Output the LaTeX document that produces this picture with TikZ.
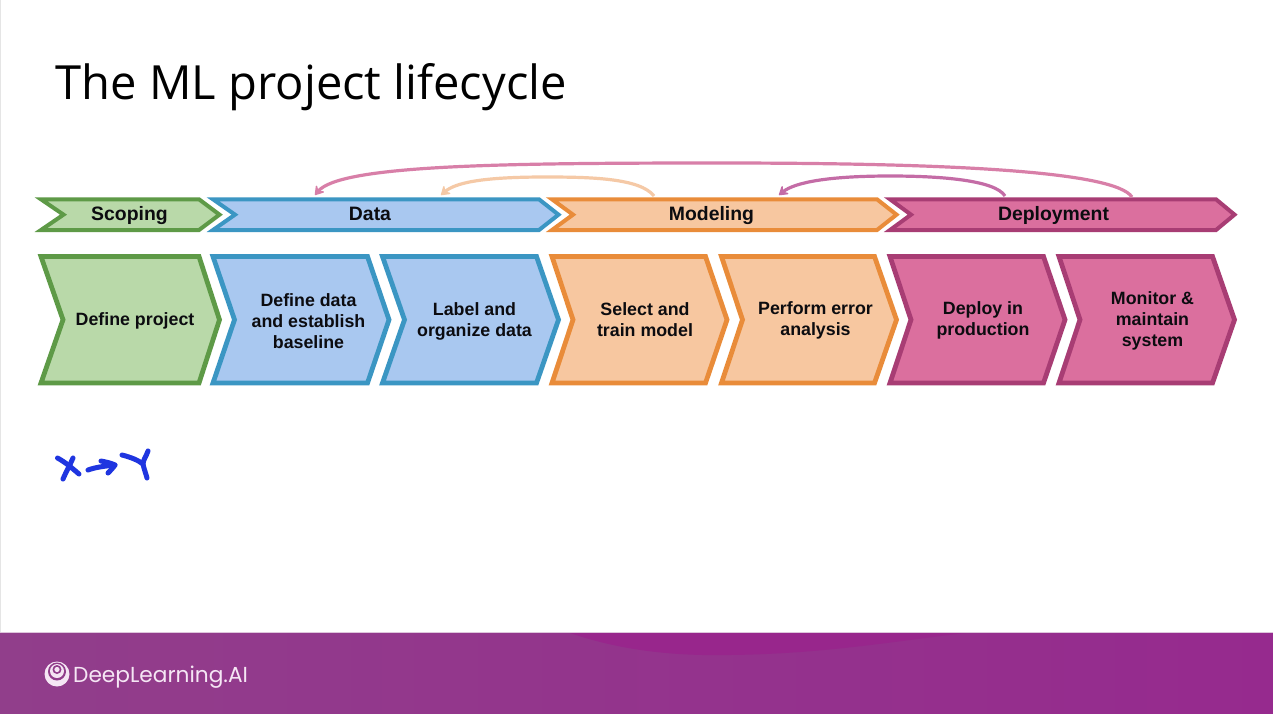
\documentclass[tikz,border=0pt]{standalone}
\usepackage{fontspec}
\setmainfont{Liberation Sans}
\newfontfamily\titlefont{Open Sans}
\newfontfamily\logofont{Poppins}
\usetikzlibrary{arrows.meta,shadings}
\definecolor{gf}{HTML}{B9D9A9}\definecolor{gs}{HTML}{5E9A47}
\definecolor{bf}{HTML}{A9C8F0}\definecolor{bs}{HTML}{3B96C3}
\definecolor{of}{HTML}{F7C7A0}\definecolor{os}{HTML}{E98C3A}
\definecolor{pf}{HTML}{DB6F9E}\definecolor{ps}{HTML}{A83D74}
\definecolor{loopa}{HTML}{D87FA8}\definecolor{loopb}{HTML}{F5C9A6}\definecolor{loopc}{HTML}{C46CA6}
\definecolor{barl}{HTML}{913E8B}\definecolor{barr}{HTML}{962A8E}\definecolor{bard}{HTML}{98268C}
\definecolor{logoc}{HTML}{F5E6F4}\definecolor{ink}{HTML}{0C0C10}\definecolor{pen}{HTML}{1F35E0}
\tikzset{
  headbox/.style={line width=4pt,miter limit=10,line join=miter},
  detailbox/.style={line width=4.8pt,miter limit=10,line join=miter},
  green/.style={fill=gf,draw=gs},blue/.style={fill=bf,draw=bs},
  orange/.style={fill=of,draw=os},pink/.style={fill=pf,draw=ps},
  boxtext/.style={align=center,text=ink,font=\fontsize{17.8}{21}\selectfont\bfseries},
  headtext/.style={anchor=base,inner sep=0pt,text=ink,font=\fontsize{19.4}{21}\selectfont\bfseries},
  loop/.style={line width=3.2pt,-{Stealth[length=11pt,width=14pt,inset=5pt,round]}},
  scrib/.style={draw=pen,line width=5pt,line cap=round,line join=round},
}
% name, left, top-right, tip, notch, top, bottom, box style, colour style
\newcommand{\chev}[9]{%
  \path[#8,#9] (#2,#6) -- (#3,#6) -- (#4,{(#6+#7)/2}) -- (#3,#7) -- (#2,#7) -- (#5,{(#6+#7)/2}) -- cycle;
  \coordinate (#1) at ({(#2+#4)/2},{(#6+#7)/2});
}
\begin{document}
\begin{tikzpicture}[x=1pt,y=-1pt]
\useasboundingbox (0,0) rectangle (1273,713);
\fill[white] (0,0) rectangle (1273,713);
\draw[black!10,line width=1.5pt] (0.5,0) -- (0.5,632);
\node[anchor=base west,inner sep=0pt,font=\titlefont\fontsize{47.1}{50}\selectfont,text=black] (title) at (55.5,99.5) {The ML project lifecycle};

% footer
\fill[left color=barl,right color=barr] (0,633) rectangle (1273,713);
\fill[bard] (570,633) .. controls (625,652) and (680,656) .. (730,655) .. controls (820,654) and (890,642) .. (965,633) -- cycle;
\fill[white!70!barl] (0,632) rectangle (1273,633.4);
\fill[logoc] (57,674) circle (12.5);
\fill[barl] (57,671.5) circle (9);
\fill[logoc] (57,671) circle (7);
\fill[barl] (57,669.5) circle (4.5);
\fill[logoc] (57,669.5) circle (2.6);
\node[anchor=base west,inner sep=0pt,text=logoc,font=\logofont\fontsize{21.7}{24}\selectfont] (logo) at (73,682) {DeepLearning.AI};

% header row
\chev{hs}{41}{199}{219.5}{63.5}{199.3}{230}{headbox}{green}
\chev{hd}{213}{539}{558.5}{235}{199.3}{230}{headbox}{blue}
\chev{hm}{552}{877}{896.5}{573}{199.3}{230}{headbox}{orange}
\chev{hp}{890}{1216}{1234.5}{911}{199.3}{230}{headbox}{pink}
\node[headtext] (lhs) at (129.5,220.5) {Scoping};
\node[headtext] (lhd) at (370,220.5) {Data};
\node[headtext] (lhm) at (711.5,220.5) {Modeling};
\node[headtext] (lhp) at (1053.5,220.5) {Deployment};

% detail row
\chev{a}{41}{199}{219.5}{63}{256.5}{383}{detailbox}{green}
\chev{b}{213}{367.5}{389}{234.5}{256.5}{383}{detailbox}{blue}
\chev{c}{382.5}{536.5}{558.5}{404.5}{256.5}{383}{detailbox}{blue}
\chev{d}{552}{705.5}{727}{573}{256.5}{383}{detailbox}{orange}
\chev{e}{721.5}{874.5}{896.5}{742.5}{256.5}{383}{detailbox}{orange}
\chev{f}{890}{1043.5}{1065}{911}{256.5}{383}{detailbox}{pink}
\chev{g}{1059}{1212.5}{1234.5}{1080}{256.5}{383}{detailbox}{pink}
\node[boxtext] (ta) at (135,320.5) {Define project};
\node[boxtext] (tb) at (308.5,321) {Define data\\and establish\\baseline};
\node[boxtext] (tc) at (474.5,321) {Label and\\organize data};
\node[boxtext] (td) at (645,320) {Select and\\train model};
\node[boxtext] (te) at (815.5,320.5) {Perform error\\analysis};
\node[boxtext] (tf) at (983,320.5) {Deploy in\\production};
\node[boxtext] (tg) at (1152.5,321) {Monitor \&\\maintain\\system};

% feedback loops
\coordinate (p1) at (1132,197);\coordinate (q1) at (315,195);
\coordinate (p2) at (654,196);\coordinate (q2) at (441,195);
\coordinate (p3) at (1005,196);\coordinate (q3) at (779,195);
\draw[loop,draw=loopa] (p1) .. controls (1115,172) and (960,163) .. (720,163) .. controls (500,163) and (340,165) .. (q1);
\draw[loop,draw=loopb] (p2) .. controls (640,178) and (590,177) .. (545,177) .. controls (480,177) and (455,183) .. (q2);
\draw[loop,draw=loopc] (p3) .. controls (995,180) and (940,176) .. (890,176) .. controls (830,176) and (795,182) .. (q3);

% handwriting
\draw[scrib] (57.5,458) .. controls (65,462) and (72,468) .. (79,474);
\draw[scrib] (73,458) .. controls (70,465) and (66,472) .. (63,479);
\draw[scrib] (88,470) .. controls (96,467) and (106,466) .. (115,465);
\draw[scrib] (101,461) .. controls (106,462) and (111,463) .. (115,465) .. controls (113,468) and (110,471) .. (108,473);
\draw[scrib] (122,455) .. controls (130,457) and (138,460) .. (143,464);
\draw[scrib] (148,451) .. controls (146,457) and (143,460) .. (143,464) .. controls (144,469) and (146,474) .. (147,478);
\end{tikzpicture}
\end{document}
